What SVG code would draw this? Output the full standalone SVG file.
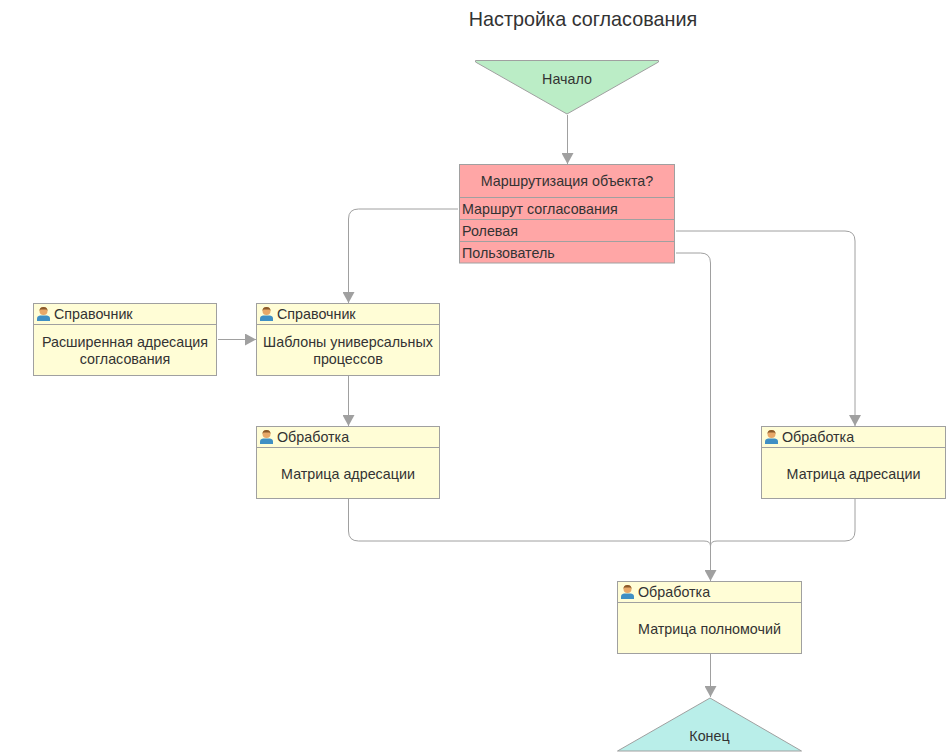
<svg xmlns="http://www.w3.org/2000/svg" width="946" height="753" viewBox="0 0 946 753">
<style>
text{font-family:"Liberation Sans",Arial,sans-serif;font-size:14.3px;fill:#333}
.c{text-anchor:middle}
.title{font-size:19.8px}
.n{fill:#fffdd6;stroke:#a0a0a0;stroke-width:1}
.l{stroke:#a0a0a0;stroke-width:1;fill:none}
.a{fill:#a0a0a0;stroke:none}
</style>
<defs>
<marker id="arrow" viewBox="0 0 11 12" refX="11" refY="6" markerWidth="11" markerHeight="12" markerUnits="userSpaceOnUse" orient="auto"><path class="a" d="M0 0L11 6L0 12Z"/></marker>
<g id="user">
<path d="M0 15V12.500Q0 10 3 9.500H10Q13 10 13 12.500V15Z" fill="#3f8fc4"/>
<circle cx="6.500" cy="5" r="4" fill="#e8a868"/>
<path d="M2.500 5A4 4 0 0 1 10.500 5L9.500 3.500L3.500 3.500Z" fill="#8a5a2a"/>
</g>
</defs>
<text class="c title" x="583" y="26">Настройка согласования</text>
<g id="connectors">
<path class="l" marker-end="url(#arrow)" d="M567.500 115V164"/>
<path class="l" marker-end="url(#arrow)" d="M458 209H358.500Q348.500 209 348.500 219V303"/>
<path class="l" marker-end="url(#arrow)" d="M676 231H845Q855 231 855 241V426"/>
<path class="l" marker-end="url(#arrow)" d="M676 253H700.500Q710.500 253 710.500 263V581"/>
<path class="l" marker-end="url(#arrow)" d="M218 339.500H256"/>
<path class="l" marker-end="url(#arrow)" d="M348.500 376V426"/>
<path class="l" d="M348.500 499V531Q348.500 541 358.500 541H704Q710.500 541 710.500 546"/>
<path class="l" d="M855 499V531Q855 541 845 541H717Q710.500 541 710.500 546"/>
<path class="l" marker-end="url(#arrow)" d="M710.500 654V697"/>
</g>
<g id="start">
<path d="M475.500 60.500H658.500V62L567 114L475.500 62Z" fill="#bbedc6" stroke="#a0a0a0"/>
<text class="c" x="567" y="83.500">Начало</text>
</g>
<g id="decision">
<rect x="459.500" y="164.500" width="215" height="98.500" fill="#ffa6a6" stroke="#a0a0a0"/>
<path class="l" d="M459.500 197.500H674.500M459.500 219.500H674.500M459.500 241.500H674.500"/>
<text class="c" x="567" y="186">Маршрутизация объекта?</text>
<text x="462" y="214">Маршрут согласования</text>
<text x="462" y="236">Ролевая</text>
<text x="462" y="258">Пользователь</text>
</g>
<g id="node-ref1">
<rect class="n" x="33.500" y="303.500" width="183" height="72"/>
<path class="l" d="M33.500 324.500H216.500"/>
<use href="#user" x="37" y="306"/>
<text x="54" y="319">Справочник</text>
<text class="c" x="125" y="347">Расширенная адресация</text>
<text class="c" x="125" y="364">согласования</text>
</g>
<g id="node-ref2">
<rect class="n" x="256.500" y="303.500" width="183" height="72"/>
<path class="l" d="M256.500 324.500H439.500"/>
<use href="#user" x="260" y="306"/>
<text x="277" y="319">Справочник</text>
<text class="c" x="348" y="347">Шаблоны универсальных</text>
<text class="c" x="348" y="364">процессов</text>
</g>
<g id="node-proc1">
<rect class="n" x="256.500" y="426.500" width="183" height="72"/>
<path class="l" d="M256.500 447.500H439.500"/>
<use href="#user" x="260" y="429"/>
<text x="277" y="442">Обработка</text>
<text class="c" x="348" y="478.500">Матрица адресации</text>
</g>
<g id="node-proc2">
<rect class="n" x="761.500" y="426.500" width="184" height="72"/>
<path class="l" d="M761.500 447.500H945.500"/>
<use href="#user" x="765" y="429"/>
<text x="782" y="442">Обработка</text>
<text class="c" x="853.500" y="478.500">Матрица адресации</text>
</g>
<g id="node-proc3">
<rect class="n" x="617.500" y="581.500" width="184" height="72"/>
<path class="l" d="M617.500 602.500H801.500"/>
<use href="#user" x="621" y="584"/>
<text x="638" y="597">Обработка</text>
<text class="c" x="709.500" y="633.500">Матрица полномочий</text>
</g>
<g id="end">
<path d="M617.500 751L710 698L801.500 751Z" fill="#b9eee9" stroke="#a0a0a0"/>
<text class="c" x="709.500" y="741">Конец</text>
</g>
</svg>
